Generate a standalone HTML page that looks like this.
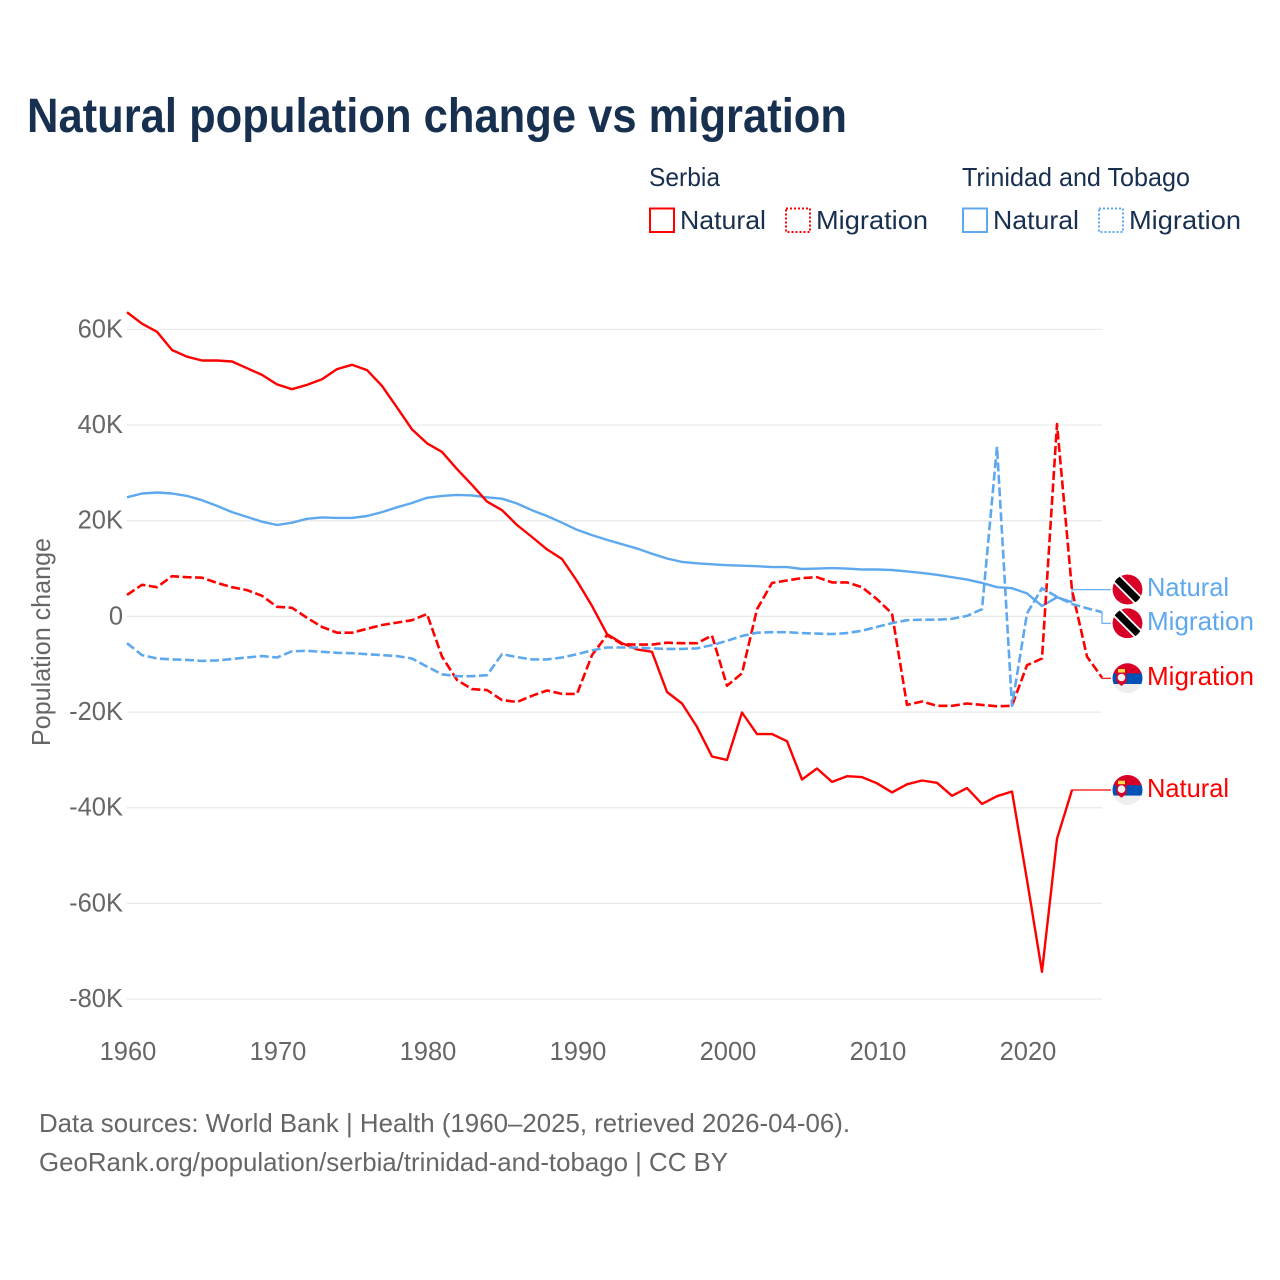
<!DOCTYPE html>
<html lang="en">
<head>
<meta charset="utf-8">
<title>Natural population change vs migration</title>
<style>
html,body{margin:0;padding:0;background:#fff;}
svg{display:block;}
text{font-family:"Liberation Sans",sans-serif;}
</style>
</head>
<body>
<svg id="chart" xmlns="http://www.w3.org/2000/svg" width="1280" height="1280" viewBox="0 0 1280 1280">
  <defs>
    <clipPath id="flag-clip-1"><circle cx="1127.5" cy="589.5" r="15"/></clipPath>
    <clipPath id="flag-clip-2"><circle cx="1127.5" cy="623.3" r="15"/></clipPath>
    <clipPath id="flag-clip-3"><circle cx="1127.5" cy="678.3" r="15"/></clipPath>
    <clipPath id="flag-clip-4"><circle cx="1127.5" cy="790" r="15"/></clipPath>
  </defs>
  <text x="27" y="132" font-size="48" font-weight="700" fill="#18304f" textLength="820" lengthAdjust="spacingAndGlyphs">Natural population change vs migration</text>

  <g font-size="26" fill="#18304f">
    <text x="649" y="186" textLength="71" lengthAdjust="spacingAndGlyphs">Serbia</text>
    <rect x="650" y="208.500" width="24" height="23.500" fill="none" stroke="#ff0000" stroke-width="2"/>
    <text x="680" y="229" textLength="86" lengthAdjust="spacingAndGlyphs">Natural</text>
    <rect x="786" y="208.500" width="24" height="23.500" fill="none" stroke="#ff0000" stroke-width="2" stroke-dasharray="2 2"/>
    <text x="816" y="229" textLength="112" lengthAdjust="spacingAndGlyphs">Migration</text>
    <text x="962" y="186" textLength="228" lengthAdjust="spacingAndGlyphs">Trinidad and Tobago</text>
    <rect x="963" y="208.500" width="24" height="23.500" fill="none" stroke="#5ea8ee" stroke-width="2"/>
    <text x="993" y="229" textLength="86" lengthAdjust="spacingAndGlyphs">Natural</text>
    <rect x="1099" y="208.500" width="24" height="23.500" fill="none" stroke="#5ea8ee" stroke-width="2" stroke-dasharray="2 2"/>
    <text x="1129" y="229" textLength="112" lengthAdjust="spacingAndGlyphs">Migration</text>
  </g>

  <g id="grid"></g>
  <g id="y-ticks"></g>
  <g id="x-ticks"></g>
  <text transform="translate(50,642) rotate(-90)" text-anchor="middle" font-size="26" fill="#666666" textLength="208" lengthAdjust="spacingAndGlyphs">Population change</text>
  <g id="series"></g>

  <g clip-path="url(#flag-clip-1)">
    <circle cx="1127.5" cy="589.5" r="15" fill="#d80027"/>
    <line x1="1112" y1="574" x2="1143" y2="605" stroke="#ffffff" stroke-width="10.500"/>
    <line x1="1112" y1="574" x2="1143" y2="605" stroke="#000000" stroke-width="7"/>
  </g>
  <g clip-path="url(#flag-clip-2)">
    <circle cx="1127.5" cy="623.3" r="15" fill="#d80027"/>
    <line x1="1112" y1="607.800" x2="1143" y2="638.800" stroke="#ffffff" stroke-width="10.500"/>
    <line x1="1112" y1="607.800" x2="1143" y2="638.800" stroke="#000000" stroke-width="7"/>
  </g>
  <g clip-path="url(#flag-clip-3)">
    <rect x="1112" y="663" width="31" height="11" fill="#d80027"/>
    <rect x="1112" y="673.500" width="31" height="10.500" fill="#0052b4"/>
    <rect x="1112" y="684" width="31" height="11" fill="#eeeeee"/>
    <path d="M1116.500 672.500h10v9.500l-5 4l-5-4z" fill="#d80027"/>
    <circle cx="1121.500" cy="677.500" r="3.800" fill="#f4f4f4"/>
    <rect x="1118" y="669" width="7" height="3.500" fill="#ffda44"/>
  </g>
  <g clip-path="url(#flag-clip-4)">
    <rect x="1112" y="774.700" width="31" height="11" fill="#d80027"/>
    <rect x="1112" y="785.200" width="31" height="10.500" fill="#0052b4"/>
    <rect x="1112" y="795.700" width="31" height="11" fill="#eeeeee"/>
    <path d="M1116.500 784.200h10v9.500l-5 4l-5-4z" fill="#d80027"/>
    <circle cx="1121.500" cy="789.200" r="3.800" fill="#f4f4f4"/>
    <rect x="1118" y="780.700" width="7" height="3.500" fill="#ffda44"/>
  </g>

  <g font-size="26">
    <text x="1147" y="596" fill="#5ea8ee" textLength="82" lengthAdjust="spacingAndGlyphs">Natural</text>
    <text x="1147" y="630" fill="#5ea8ee" textLength="107" lengthAdjust="spacingAndGlyphs">Migration</text>
    <text x="1147" y="685" fill="#ff0000" textLength="107" lengthAdjust="spacingAndGlyphs">Migration</text>
    <text x="1147" y="797" fill="#ff0000" textLength="82" lengthAdjust="spacingAndGlyphs">Natural</text>
  </g>

  <g font-size="26" fill="#666666">
    <text x="39" y="1132" textLength="811" lengthAdjust="spacingAndGlyphs">Data sources: World Bank | Health (1960–2025, retrieved 2026-04-06).</text>
    <text x="39" y="1171" textLength="689" lengthAdjust="spacingAndGlyphs">GeoRank.org/population/serbia/trinidad-and-tobago | CC BY</text>
  </g>
</svg>
<script>
const firstYear = 1960;
const yTickValues = [60, 40, 20, 0, -20, -40, -60, -80];
const yTickLabels = ['60K', '40K', '20K', '0', '-20K', '-40K', '-60K', '-80K'];
const xTickValues = [1960, 1970, 1980, 1990, 2000, 2010, 2020];

// Values in thousands of people, one per year from 1960
const serbiaNatural = [63.6,61.2,59.5,55.7,54.3,53.5,53.5,53.3,51.9,50.5,48.5,47.5,48.4,49.6,51.7,52.6,51.5,48.2,43.7,39.1,36.2,34.4,30.8,27.5,24.0,22.2,19.1,16.6,14.0,12.0,7.4,2.2,-3.7,-5.6,-6.9,-7.4,-15.8,-18.2,-23.1,-29.3,-30.0,-20.1,-24.6,-24.6,-26.1,-34.1,-31.8,-34.6,-33.4,-33.6,-34.9,-36.8,-35.1,-34.3,-34.8,-37.5,-35.9,-39.2,-37.6,-36.6,-55.1,-74.3,-46.5,-36.3];
const serbiaMigration = [4.5,6.6,6.1,8.4,8.2,8.1,7.0,6.1,5.5,4.3,2.0,1.8,-0.3,-2.2,-3.4,-3.4,-2.6,-1.8,-1.3,-0.8,0.5,-8.4,-13.3,-15.2,-15.4,-17.5,-17.9,-16.6,-15.5,-16.2,-16.2,-8.1,-3.9,-5.8,-5.9,-5.9,-5.5,-5.6,-5.6,-4.0,-14.5,-11.9,1.5,7.0,7.5,8.0,8.2,7.1,7.1,6.1,3.6,0.6,-18.5,-17.8,-18.7,-18.7,-18.2,-18.5,-18.8,-18.7,-10.2,-8.8,40.2,5.5,-8.4,-12.8];
const ttNatural = [24.9,25.7,25.9,25.7,25.2,24.3,23.1,21.8,20.8,19.8,19.1,19.6,20.4,20.7,20.6,20.6,21.0,21.8,22.8,23.7,24.8,25.2,25.4,25.3,24.9,24.6,23.6,22.2,21.0,19.6,18.1,17.0,16.0,15.1,14.2,13.1,12.1,11.4,11.1,10.9,10.7,10.6,10.5,10.3,10.3,9.9,10.0,10.1,10.0,9.8,9.8,9.7,9.4,9.1,8.7,8.2,7.7,7.0,6.1,5.9,4.8,2.2,4.0,3.0];
const ttMigration = [-5.6,-8.1,-8.8,-9.0,-9.1,-9.3,-9.2,-8.9,-8.6,-8.3,-8.6,-7.3,-7.2,-7.4,-7.6,-7.7,-7.9,-8.1,-8.3,-8.8,-10.5,-12.1,-12.5,-12.5,-12.3,-7.9,-8.5,-9.0,-9.0,-8.6,-7.9,-7.1,-6.5,-6.5,-6.5,-6.7,-6.8,-6.8,-6.7,-6.0,-5.1,-4.1,-3.4,-3.3,-3.3,-3.5,-3.6,-3.7,-3.5,-3.0,-2.2,-1.4,-0.8,-0.7,-0.7,-0.5,0.1,1.5,35.5,-18.7,0.6,5.9,4.1,2.6,1.7,0.9];

const SVG_NS = 'http://www.w3.org/2000/svg';
function xScale(year) { return 127 + (year - 1960) * 15; }
function yScale(value) { return 616.4 - value * 4.783; }

const gridGroup = document.getElementById('grid');
const yTickGroup = document.getElementById('y-ticks');
const xTickGroup = document.getElementById('x-ticks');
const seriesGroup = document.getElementById('series');

yTickValues.forEach(function (value, i) {
  const line = document.createElementNS(SVG_NS, 'line');
  
  
  line.setAttribute('x1', 127);
  line.setAttribute('x2', 1102);
  line.setAttribute('y1', yScale(value));
  line.setAttribute('y2', yScale(value));
  line.setAttribute('stroke', '#e8e8e8');
  line.setAttribute('stroke-width', '1.2');
  gridGroup.appendChild(line);

  const label = document.createElementNS(SVG_NS, 'text');
  
  
  label.setAttribute('x', 123);
  label.setAttribute('y', yScale(value) + 8);
  label.setAttribute('text-anchor', 'end');
  label.setAttribute('font-size', '25.5');
  label.setAttribute('fill', '#666666');
  label.textContent = yTickLabels[i];
  yTickGroup.appendChild(label);
});

xTickValues.forEach(function (year) {
  const label = document.createElementNS(SVG_NS, 'text');
  
  
  label.setAttribute('x', xScale(year) + 1);
  label.setAttribute('y', 1060);
  label.setAttribute('text-anchor', 'middle');
  label.setAttribute('font-size', '25.5');
  label.setAttribute('fill', '#666666');
  label.textContent = String(year);
  xTickGroup.appendChild(label);
});

function pointsFor(values) {
  return values.map(function (value, i) {
    return xScale(firstYear + i).toFixed(1) + ',' + yScale(value).toFixed(1);
  }).join(' ');
}

function drawSeries(name, values, color, dashed) {
  const line = document.createElementNS(SVG_NS, 'polyline');
  
  
  line.setAttribute('points', pointsFor(values));
  line.setAttribute('fill', 'none');
  line.setAttribute('stroke', color);
  line.setAttribute('stroke-width', dashed ? '2.6' : '2.4');
  line.setAttribute('stroke-linejoin', 'round');
  if (dashed) {
    line.setAttribute('stroke-dasharray', '9 3.5');
  }
  seriesGroup.appendChild(line);
}

function drawConnector(name, values, color, labelY) {
  const lastX = xScale(firstYear + values.length - 1);
  const lastY = yScale(values[values.length - 1]);
  const line = document.createElementNS(SVG_NS, 'polyline');
  
  
  line.setAttribute('points', lastX + ',' + lastY + ' ' + lastX + ',' + labelY + ' 1111,' + labelY);
  line.setAttribute('fill', 'none');
  line.setAttribute('stroke', color);
  line.setAttribute('stroke-width', '1.2');
  seriesGroup.appendChild(line);
}

drawConnector('connector-tt-natural', ttNatural, '#5ea8ee', 589.7);
drawConnector('connector-tt-migration', ttMigration, '#5ea8ee', 623.3);
drawConnector('connector-serbia-migration', serbiaMigration, '#ff0000', 678.3);
drawConnector('connector-serbia-natural', serbiaNatural, '#ff0000', 790);
drawSeries('line-tt-natural', ttNatural, '#5ea8ee', false);
drawSeries('line-serbia-natural', serbiaNatural, '#ff0000', false);
drawSeries('line-serbia-migration', serbiaMigration, '#ff0000', true);
drawSeries('line-tt-migration', ttMigration, '#5ea8ee', true);
</script>
</body>
</html>
